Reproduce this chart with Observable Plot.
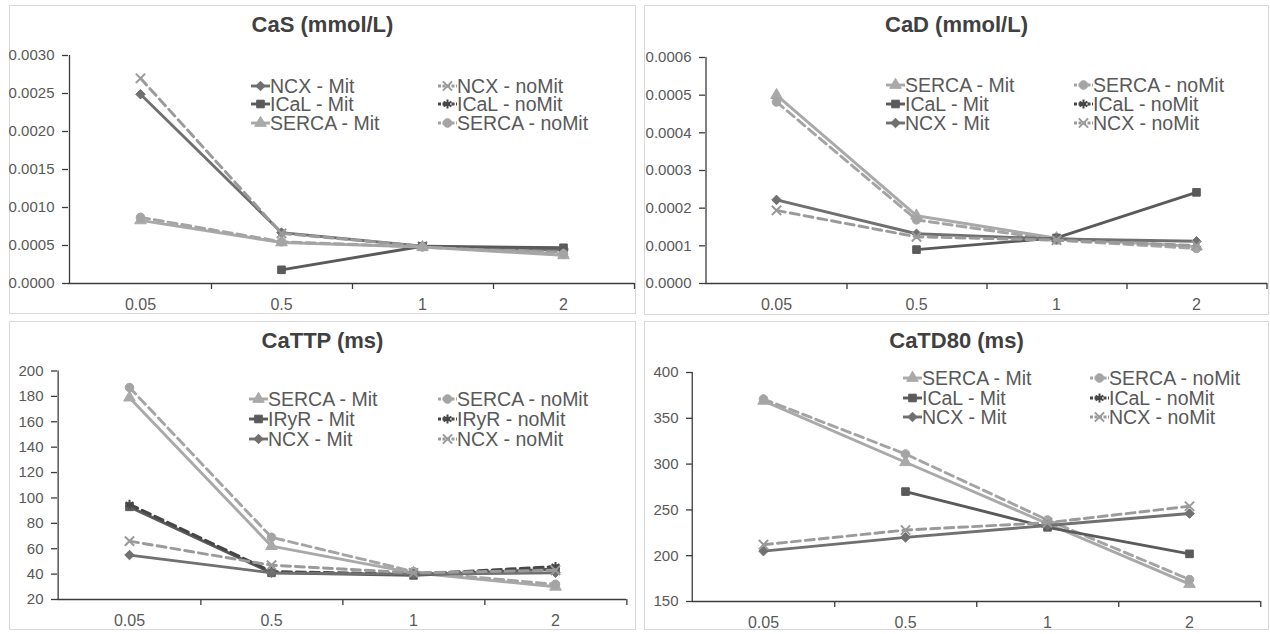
<!DOCTYPE html>
<html>
<head>
<meta charset="utf-8">
<script src="https://cdn.jsdelivr.net/npm/d3@7"></script>
<script src="https://cdn.jsdelivr.net/npm/@observablehq/plot@0.6"></script>
<style>
  html, body { margin: 0; padding: 0; background: #fff; }
  body { width: 1270px; height: 634px; position: relative; overflow: hidden; font-family: "Liberation Sans", Arial, sans-serif; }
  .panel { position: absolute; border: 1px solid #d9d9d9; box-sizing: border-box; background: #fff; }
  .panel svg { position: absolute; left: 0; top: 0; overflow: visible; }
  .title { position: absolute; left: 0; right: 0; text-align: center; font-weight: bold; font-size: 22px; color: #404040; line-height: 24px; }
  .leg { position: absolute; display: flex; align-items: center; height: 18px; line-height: 18px; font-size: 19.5px; color: #595959; white-space: nowrap; }
  .leg svg { position: static; }
  g[aria-label="y-axis tick label"], g[aria-label="x-axis tick label"] { fill: #595959; }
</style>
</head>
<body>
<script>
// ---------- data ----------
const categories = ["0.05", "0.5", "1", "2"];

// CaS (mmol/L)
const cas_NCX_Mit     = [0.00249, 0.00067, 0.00049, 0.00044];
const cas_NCX_noMit   = [0.00270, 0.00066, 0.00049, 0.00041];
const cas_ICaL_Mit    = [null, 0.00018, 0.00049, 0.00047];
const cas_ICaL_noMit  = [null, null, null, null];
const cas_SERCA_Mit   = [0.00083, 0.00054, 0.00048, 0.00037];
const cas_SERCA_noMit = [0.00087, 0.00055, 0.00048, 0.00039];
const casTicks = [0, 0.0005, 0.001, 0.0015, 0.002, 0.0025, 0.003];

// CaD (mmol/L)
const cad_SERCA_Mit   = [0.000500, 0.000180, 0.000120, 0.000098];
const cad_SERCA_noMit = [0.000482, 0.000169, 0.000115, 0.000093];
const cad_ICaL_Mit    = [null, 0.000090, 0.000121, 0.000242];
const cad_ICaL_noMit  = [null, null, null, null];
const cad_NCX_Mit     = [0.000222, 0.000132, 0.000118, 0.000112];
const cad_NCX_noMit   = [0.000194, 0.000124, 0.000115, 0.000101];
const cadTicks = [0, 0.0001, 0.0002, 0.0003, 0.0004, 0.0005, 0.0006];

// CaTTP (ms)
const cattp_SERCA_Mit   = [179, 62, 41, 30];
const cattp_SERCA_noMit = [187, 69, 42, 32];
const cattp_IRyR_Mit    = [93, 41, 39, 44];
const cattp_IRyR_noMit  = [95, 42, 40, 46];
const cattp_NCX_Mit     = [55, 41, 40, 41];
const cattp_NCX_noMit   = [66, 47, 41, 43];
const cattpTicks = [20, 40, 60, 80, 100, 120, 140, 160, 180, 200];

// CaTD80 (ms)
const catd_SERCA_Mit   = [369, 302, 235, 169];
const catd_SERCA_noMit = [371, 311, 239, 174];
const catd_ICaL_Mit    = [null, 270, 231, 202];
const catd_ICaL_noMit  = [null, null, null, null];
const catd_NCX_Mit     = [205, 220, 233, 246];
const catd_NCX_noMit   = [212, 228, 236, 254];
const catdTicks = [150, 200, 250, 300, 350, 400];

// ---------- styles ----------
const styles = {
  "NCX-Mit":     {color: "#707070", symbol: "diamond2", dash: null},
  "NCX-noMit":   {color: "#9a9a9a", symbol: "times",    dash: "9,5"},
  "ICaL-Mit":    {color: "#5a5a5a", symbol: "square",   dash: null},
  "ICaL-noMit":  {color: "#464646", symbol: "asterisk", dash: "9,5"},
  "SERCA-Mit":   {color: "#a9a9a9", symbol: "triangle", dash: null},
  "SERCA-noMit": {color: "#a4a4a4", symbol: "circle",   dash: "9,5"}
};
const strokeSymbols = new Set(["times", "asterisk", "plus"]);
const d3Sym = {diamond2: d3.symbolDiamond2, times: d3.symbolTimes, square: d3.symbolSquare,
  asterisk: d3.symbolAsterisk, triangle: d3.symbolTriangle, circle: d3.symbolCircle};

const panels = [
  {title: "CaS (mmol/L)", left: 9, top: 5, width: 627, height: 309, ml: 59, mr: 0, mt: 50, mb: 29,
   domain: [0, 0.003], ticks: casTicks, fmt: d => d.toFixed(4),
   legCols: [242, 429], legRows: [81, 99, 118],
   series: [
     ["NCX - Mit", "NCX-Mit", cas_NCX_Mit], ["NCX - noMit", "NCX-noMit", cas_NCX_noMit],
     ["ICaL - Mit", "ICaL-Mit", cas_ICaL_Mit], ["ICaL - noMit", "ICaL-noMit", cas_ICaL_noMit],
     ["SERCA - Mit", "SERCA-Mit", cas_SERCA_Mit], ["SERCA - noMit", "SERCA-noMit", cas_SERCA_noMit]]},
  {title: "CaD (mmol/L)", left: 644, top: 5, width: 625, height: 310, ml: 61, mr: 0, mt: 52, mb: 30,
   domain: [0, 0.0006], ticks: cadTicks, fmt: d => d.toFixed(4),
   legCols: [242, 430], legRows: [80, 99, 118],
   series: [
     ["SERCA - Mit", "SERCA-Mit", cad_SERCA_Mit], ["SERCA - noMit", "SERCA-noMit", cad_SERCA_noMit],
     ["ICaL - Mit", "ICaL-Mit", cad_ICaL_Mit], ["ICaL - noMit", "ICaL-noMit", cad_ICaL_noMit],
     ["NCX - Mit", "NCX-Mit", cad_NCX_Mit], ["NCX - noMit", "NCX-noMit", cad_NCX_noMit]]},
  {title: "CaTTP (ms)", left: 9, top: 321, width: 627, height: 309, ml: 48, mr: 8, mt: 49.5, mb: 29,
   domain: [20, 200], ticks: cattpTicks, fmt: d => String(d),
   legCols: [240, 429], legRows: [78, 98, 118],
   series: [
     ["SERCA - Mit", "SERCA-Mit", cattp_SERCA_Mit], ["SERCA - noMit", "SERCA-noMit", cattp_SERCA_noMit],
     ["IRyR - Mit", "ICaL-Mit", cattp_IRyR_Mit], ["IRyR - noMit", "ICaL-noMit", cattp_IRyR_noMit],
     ["NCX - Mit", "NCX-Mit", cattp_NCX_Mit], ["NCX - noMit", "NCX-noMit", cattp_NCX_noMit]]},
  {title: "CaTD80 (ms)", left: 644, top: 321, width: 625, height: 309, ml: 48, mr: 7, mt: 51, mb: 27,
   domain: [150, 400], ticks: catdTicks, fmt: d => String(d),
   legCols: [259, 446], legRows: [57, 77, 96],
   series: [
     ["SERCA - Mit", "SERCA-Mit", catd_SERCA_Mit], ["SERCA - noMit", "SERCA-noMit", catd_SERCA_noMit],
     ["ICaL - Mit", "ICaL-Mit", catd_ICaL_Mit], ["ICaL - noMit", "ICaL-noMit", catd_ICaL_noMit],
     ["NCX - Mit", "NCX-Mit", catd_NCX_Mit], ["NCX - noMit", "NCX-noMit", catd_NCX_noMit]]}
];

for (const p of panels) {
  const div = document.createElement("div");
  div.className = "panel";
  Object.assign(div.style, {left: p.left + "px", top: p.top + "px", width: p.width + "px", height: p.height + "px"});
  document.body.appendChild(div);

  const step = (p.width - p.ml - p.mr) / categories.length;
  const axisColor = "#3c3c3c";
  const marks = [
    Plot.ruleY([p.domain[0]], {stroke: axisColor, strokeWidth: 1.3}),
    Plot.ruleX([categories[0]], {dx: -step / 2, stroke: axisColor, strokeWidth: 1.3}),
    Plot.axisY({ticks: p.ticks, tickSize: 6, tickPadding: 8, tickFormat: p.fmt, fontSize: 15, label: null,
                stroke: axisColor, fill: "#595959", strokeWidth: 1.3}),
    Plot.axisX({tickSize: 0, tickPadding: 15, fontSize: 16, fill: "#595959", label: null}),
    Plot.axisX({tickSize: 6, tickFormat: () => "", dx: step / 2, stroke: axisColor, strokeWidth: 1.3, label: null})
  ];
  for (const [name, kind, values] of p.series) {
    const st = styles[kind];
    const data = categories.map((c, i) => ({x: c, y: values[i]}));
    const defined = data.filter(d => d.y != null);
    if (!defined.length) continue;
    marks.push(Plot.line(data, {x: "x", y: "y", stroke: st.color, strokeWidth: 2.9,
      strokeDasharray: st.dash, defined: d => d.y != null}));
    const isStroke = strokeSymbols.has(st.symbol);
    marks.push(Plot.dot(defined, {x: "x", y: "y", symbol: st.symbol, r: 4.3,
      fill: isStroke ? "none" : st.color, stroke: st.color, strokeWidth: isStroke ? 2 : 1}));
  }

  const svg = Plot.plot({
    width: p.width - 2, height: p.height - 2,
    marginLeft: p.ml, marginRight: p.mr, marginTop: p.mt, marginBottom: p.mb,
    x: {type: "point", domain: categories, padding: 0.5, axis: null, label: null},
    y: {domain: p.domain, axis: null, label: null},
    style: {fontFamily: "'Liberation Sans', Arial, sans-serif", background: "transparent", overflow: "visible"},
    marks
  });
  svg.style.left = "-1px"; svg.style.top = "-1px";
  div.appendChild(svg);

  const t = document.createElement("div");
  t.className = "title";
  t.style.top = "7px";
  t.textContent = p.title;
  div.appendChild(t);

  p.series.forEach(([name, kind], i) => {
    const st = styles[kind];
    const row = Math.floor(i / 2), col = i % 2;
    const item = document.createElement("div");
    item.className = "leg";
    item.style.left = (p.legCols[col] - 1) + "px";
    item.style.top = (p.legRows[row] - 9 - 1) + "px";
    const s = d3.create("svg").attr("width", 19).attr("height", 18);
    s.append("line").attr("x1", 0).attr("x2", 19).attr("y1", 9).attr("y2", 9)
      .attr("stroke", st.color).attr("stroke-width", 2.9)
      .attr("stroke-dasharray", st.dash ? "3,1.5" : null);
    const isStroke = strokeSymbols.has(st.symbol);
    s.append("path").attr("transform", "translate(9.5,9)")
      .attr("d", d3.symbol(d3Sym[st.symbol], Math.PI * 4.3 * 4.3)())
      .attr("fill", isStroke ? "none" : st.color).attr("stroke", st.color)
      .attr("stroke-width", isStroke ? 2 : 1);
    item.appendChild(s.node());
    const span = document.createElement("span");
    span.textContent = name;
    item.appendChild(span);
    div.appendChild(item);
  });
}
</script>
</body>
</html>
